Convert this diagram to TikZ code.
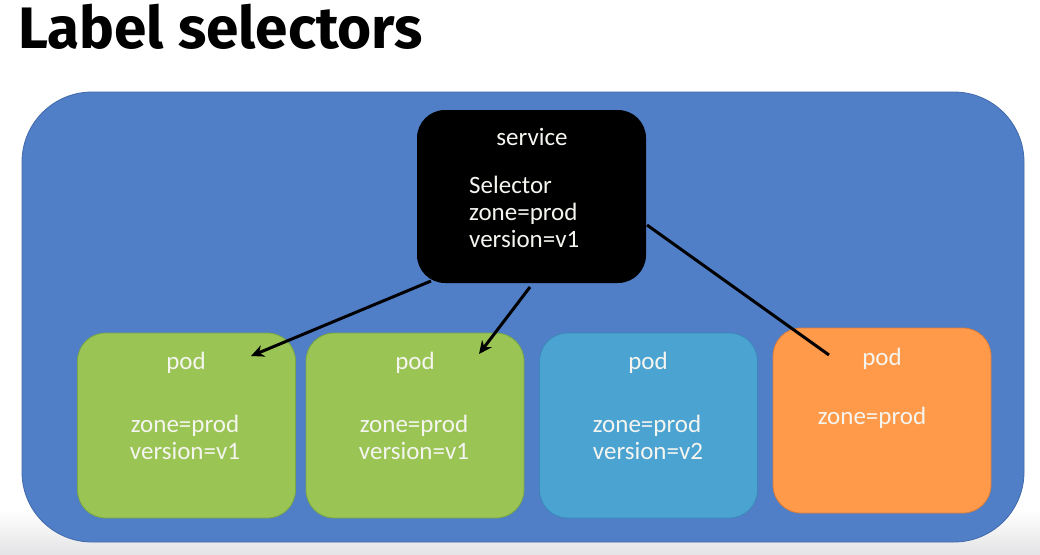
\documentclass[tikz,border=0pt]{standalone}
\usepackage{fontspec}
\setmainfont{Carlito}
\newfontfamily\titlefont{Fira Sans}
\usetikzlibrary{arrows.meta}
\definecolor{bgblue}{RGB}{80,127,200}
\definecolor{bgblueb}{RGB}{65,105,170}
\definecolor{podgreen}{RGB}{154,196,84}
\definecolor{podgreenb}{RGB}{120,165,70}
\definecolor{podblue}{RGB}{75,163,210}
\definecolor{podblueb}{RGB}{60,135,185}
\definecolor{podorange}{RGB}{255,154,74}
\definecolor{podorangeb}{RGB}{215,125,60}
\definecolor{txtw}{RGB}{245,245,240}
\definecolor{floorgray}{RGB}{228,228,230}
\tikzset{
  podbox/.style={rounded corners=28pt, minimum width=218pt, minimum height=185pt, line width=0.8pt, inner sep=0pt},
  ptxt/.style={text=txtw, font=\fontsize{25}{30}\selectfont, inner sep=0pt, anchor=base},
  conn/.style={line width=3pt, draw=black},
  arr/.style={conn, -{Stealth[length=13pt,width=12pt]}}
}
\begin{document}
\begin{tikzpicture}[x=1pt,y=-1pt]
\useasboundingbox (0,0) rectangle (1040,554);
\fill[white] (0,0) rectangle (1040,554);
\shade[top color=white, bottom color=floorgray] (0,510) rectangle (1040,554);
\node[anchor=base west, inner sep=0pt, font=\titlefont\bfseries\fontsize{58.5}{64}\selectfont] (title) at (18,48) {Label selectors};
\node[draw=bgblueb, fill=bgblue, line width=0.8pt, rounded corners=70pt, minimum width=1002pt, minimum height=450pt, inner sep=0pt] (cluster) at (523,317) {};
% service
\node[fill=black, rounded corners=28pt, minimum width=229pt, minimum height=173pt, inner sep=0pt] (svc) at (531.5,196.5) {};
\node[ptxt, anchor=base] (svct) at (532,145) {service};
\node[ptxt, anchor=base west] (sel1) at (469,193) {Selector};
\node[ptxt, anchor=base west] (sel2) at (469,220) {zone=prod};
\node[ptxt, anchor=base west] (sel3) at (469,247) {version=v1};
% pods
\node[podbox, fill=podgreen, draw=podgreenb] (p1) at (186.5,425.5) {};
\node[podbox, fill=podgreen, draw=podgreenb] (p2) at (415,425.5) {};
\node[podbox, fill=podblue, draw=podblueb] (p3) at (648.5,425.5) {};
\node[podbox, fill=podorange, draw=podorangeb] (p4) at (882,420.5) {};
\node[ptxt] (p1a) at (186,369) {pod};
\node[ptxt] (p1b) at (185,432) {zone=prod};
\node[ptxt] (p1c) at (185,459) {version=v1};
\node[ptxt] (p2a) at (415,369) {pod};
\node[ptxt] (p2b) at (414,432) {zone=prod};
\node[ptxt] (p2c) at (414,459) {version=v1};
\node[ptxt] (p3a) at (648,369) {pod};
\node[ptxt] (p3b) at (647,432) {zone=prod};
\node[ptxt] (p3c) at (648,459) {version=v2};
\node[ptxt] (p4a) at (882,365) {pod};
\node[ptxt] (p4b) at (872,424) {zone=prod};
% connectors
\coordinate (s1) at (431,281);
\coordinate (e1) at (251,356);
\coordinate (s2) at (530,287);
\coordinate (e2) at (479,354);
\coordinate (s3) at (647,225);
\coordinate (e3) at (829,355);
\draw[arr] (s1) -- (e1);
\draw[arr] (s2) -- (e2);
\draw[conn] (s3) -- (e3);
\end{tikzpicture}
\end{document}
